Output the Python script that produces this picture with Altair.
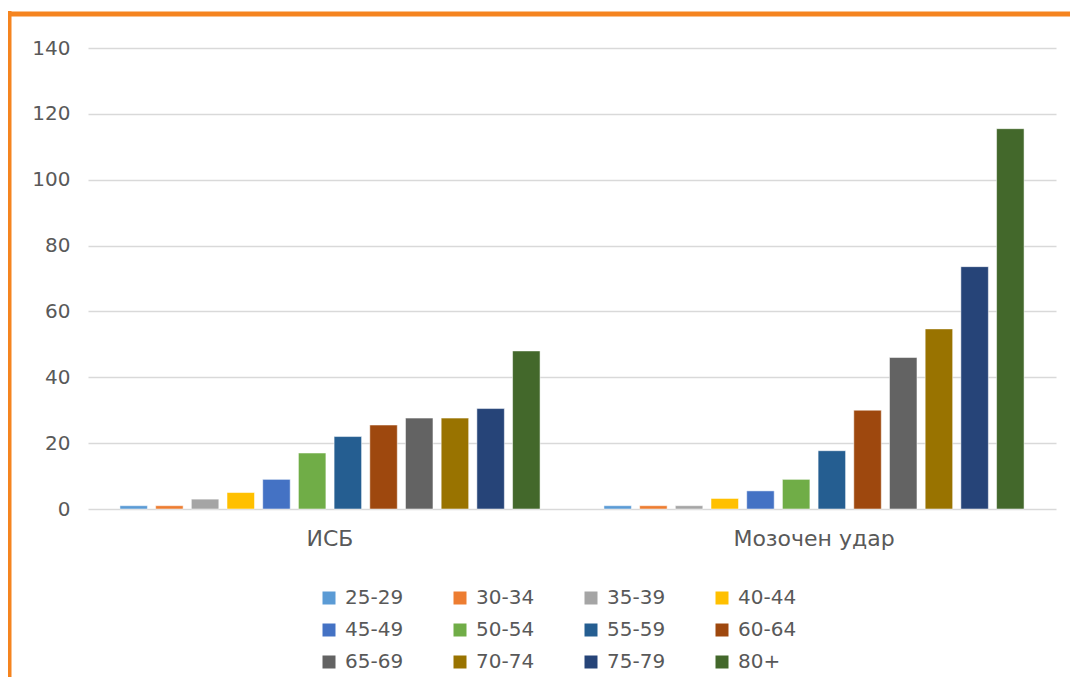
import altair as alt
import pandas as pd

groups = ["ИСБ", "Мозочен удар"]
ages = ["25-29", "30-34", "35-39", "40-44", "45-49", "50-54",
        "55-59", "60-64", "65-69", "70-74", "75-79", "80+"]
isb = [1, 1, 3, 5, 9, 17, 22, 25.5, 27.6, 27.6, 30.5, 48]
stroke_vals = [1, 1, 1, 3.2, 5.5, 9, 17.7, 30, 46, 54.7, 73.6, 115.5]
colors = ["#5B9BD5", "#ED7D31", "#A5A5A5", "#FFC000", "#4472C4", "#70AD47",
          "#255E91", "#9E480E", "#636363", "#997300", "#264478", "#43682B"]
y_ticks = [0, 20, 40, 60, 80, 100, 120, 140]

rows = []
for a, v in zip(ages, isb):
    rows.append({"group": groups[0], "age": a, "value": v})
for a, v in zip(ages, stroke_vals):
    rows.append({"group": groups[1], "age": a, "value": v})
df = pd.DataFrame(rows)

FONT = "DejaVu Sans"
W, H = 968, 461

bars = alt.Chart(df).mark_bar(stroke="#ffffff", strokeOpacity=0.5, strokeWidth=1).encode(
    x=alt.X("group:N", sort=groups, title=None,
            scale=alt.Scale(paddingInner=0.132, paddingOuter=0.066),
            axis=alt.Axis(labelAngle=0, labelFontSize=22, labelColor="#595959",
                          labelFont=FONT, domain=False, ticks=False, labelPadding=19,
                          grid=False)),
    xOffset=alt.XOffset("age:N", sort=ages,
                        scale=alt.Scale(paddingInner=0.23, paddingOuter=0)),
    y=alt.Y("value:Q", title=None,
            scale=alt.Scale(domain=[0, 140], nice=False),
            axis=alt.Axis(values=y_ticks, labelFontSize=20, labelColor="#595959",
                          labelFont=FONT, domain=False, ticks=False, labelPadding=18,
                          gridColor="#d9d9d9", gridWidth=1.5)),
    color=alt.Color("age:N", sort=ages,
                    scale=alt.Scale(domain=ages, range=colors),
                    legend=alt.Legend(orient="none", legendX=231, legendY=540,
                                      direction="horizontal", columns=4, title=None,
                                      symbolType="square", symbolSize=169,
                                      symbolStrokeWidth=0, labelFontSize=20,
                                      labelFont=FONT, labelColor="#595959",
                                      columnPadding=46, rowPadding=12,
                                      labelOffset=6, padding=0)),
)

frame_df = pd.DataFrame({"d": [0]})
left_line = alt.Chart(frame_df).mark_rule(color="#F5841F", strokeWidth=5).encode(
    x=alt.value(-79), y=alt.value(-37), y2=alt.value(H + 170))
top_line = alt.Chart(frame_df).mark_rule(color="#F5841F", strokeWidth=5).encode(
    x=alt.value(-82), x2=alt.value(W + 20), y=alt.value(-34))

chart = alt.layer(bars, left_line, top_line).properties(
    width=W, height=H,
    background="#ffffff",
    autosize=alt.AutoSizeParams(type="none"),
    padding={"left": 80, "top": 40, "right": 14, "bottom": 168},
).configure_view(strokeWidth=0, stroke="transparent")

chart.save("out.html", embed_options={"renderer": "svg", "actions": False})
